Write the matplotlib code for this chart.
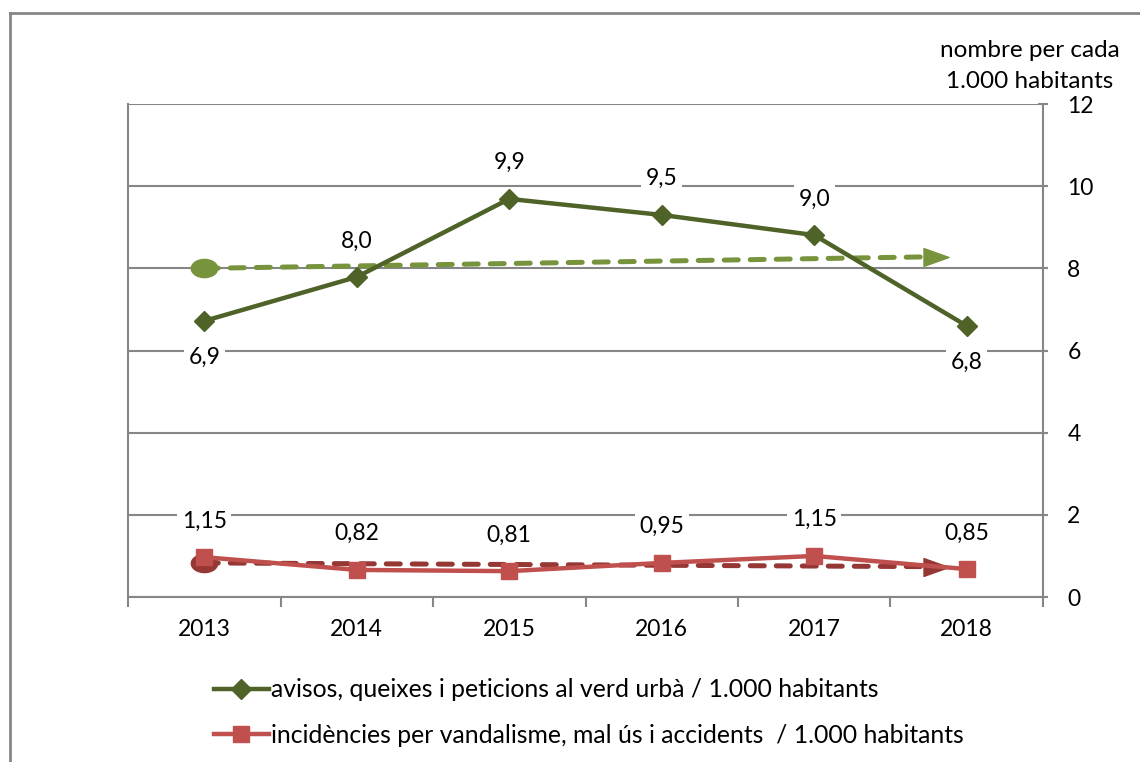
import matplotlib.pyplot as plt
from matplotlib.lines import Line2D
from matplotlib.path import Path
from matplotlib.transforms import Affine2D

plt.rcParams["font.family"] = ["Lato", "DejaVu Sans"]

years = ["2013", "2014", "2015", "2016", "2017", "2018"]
avisos = [6.72, 7.79, 9.69, 9.30, 8.81, 6.60]
avisos_labels = ["6,9", "8,0", "9,9", "9,5", "9,0", "6,8"]
avisos_pos = ["below", "above", "above", "above", "above", "below"]
incid = [0.97, 0.66, 0.63, 0.83, 1.00, 0.68]
incid_labels = ["1,15", "0,82", "0,81", "0,95", "1,15", "0,85"]
# trend line start / end values
avisos_trend = [8.0, 8.28]
incid_trend = [0.83, 0.74]

name_avisos = "avisos, queixes i peticions al verd urbà / 1.000 habitants"
name_incid = "incidències per vandalisme, mal ús i accidents  / 1.000 habitants"

GREEN = "#4F6228"
LGREEN = "#77933C"
RED = "#C0504D"
DRED = "#953735"
GRID = "#868686"
FS = 16.5

ellipse = Path.unit_circle().transformed(Affine2D().scale(1.45, 1.0))
arrow = Path([(-1.4, -1), (1.4, 0), (-1.4, 1), (-1.4, -1)],
             [Path.MOVETO, Path.LINETO, Path.LINETO, Path.CLOSEPOLY])

fig = plt.figure(figsize=(11.4, 7.62), dpi=100)
ax = fig.add_axes([0.1123, 0.2165, 0.8026, 0.647])

x = list(range(len(years)))

# trends (drawn under the series)
trend_end = 4.74
for tv, col in [(avisos_trend, LGREEN), (incid_trend, DRED)]:
    ax.plot([0, trend_end], tv, color=col, lw=3.6, ls=(0, (2.8, 2.4)),
            dash_capstyle="round", zorder=3)
    ax.plot([0], [tv[0]], marker=ellipse, ms=19, color=col, mec=col, zorder=4)
    ax.plot([trend_end + 0.06], [tv[1]], marker=arrow, ms=18, color=col,
            mec=col, zorder=4)

ax.plot(x, avisos, color=GREEN, lw=3.2, marker="D", ms=10, mec=GREEN, zorder=5)
ax.plot(x, incid, color=RED, lw=3.2, marker="s", ms=12, mec=RED, zorder=5)

box = dict(boxstyle="square,pad=0.2", fc="white", ec="none")
for i, (v, lab, pos) in enumerate(zip(avisos, avisos_labels, avisos_pos)):
    dy = -26 if pos == "below" else 26
    ax.annotate(lab, (i, v), xytext=(0, dy), textcoords="offset points",
                ha="center", va="center", fontsize=FS, bbox=box, zorder=2)
for i, (v, lab) in enumerate(zip(incid, incid_labels)):
    ax.annotate(lab, (i, v), xytext=(0, 26), textcoords="offset points",
                ha="center", va="center", fontsize=FS, bbox=box, zorder=2)

ax.set_xlim(-0.5, len(years) - 0.5)
ax.set_ylim(0, 12)
ax.set_yticks(range(0, 13, 2))
ax.yaxis.tick_right()
ax.set_xticks(x)
ax.set_xticklabels(years, fontsize=FS)
ax.set_xticks([i - 0.5 for i in range(len(years) + 1)], minor=True)
ax.tick_params(axis="x", which="major", length=0, pad=16)
ax.tick_params(axis="x", which="minor", length=7, width=1.5, color=GRID, direction="out")
ax.tick_params(axis="y", labelsize=FS, length=7, width=1.5, color=GRID,
               direction="inout", pad=14)
ax.grid(axis="y", color=GRID, lw=1.5, zorder=0)
ax.set_axisbelow(True)
ax.spines["top"].set_visible(False)
for s in ["left", "right", "bottom"]:
    ax.spines[s].set_color(GRID)
    ax.spines[s].set_linewidth(1.5)

fig.text(1030 / 1140, 1 - 66 / 762, "nombre per cada\n1.000 habitants",
         ha="center", va="center", fontsize=17.5, linespacing=1.55)

handles = [
    Line2D([], [], color=GREEN, lw=3.2, marker="D", ms=10, mec=GREEN),
    Line2D([], [], color=RED, lw=3.2, marker="s", ms=12, mec=RED),
]
fig.legend(handles, [name_avisos, name_incid], loc="upper left",
           bbox_to_anchor=(192 / 1140, 1 - 656 / 762), frameon=False,
           fontsize=17.8, handlelength=2.2, handletextpad=0.1, labelspacing=0.92)

# outer frame
fig.add_artist(Line2D([10 / 1140, 10 / 1140], [0, 1 - 13 / 762],
                      color=GRID, lw=2, transform=fig.transFigure))
fig.add_artist(Line2D([10 / 1140, 1], [1 - 13 / 762, 1 - 13 / 762],
                      color=GRID, lw=2, transform=fig.transFigure))

fig.savefig("out.png", dpi=100)
